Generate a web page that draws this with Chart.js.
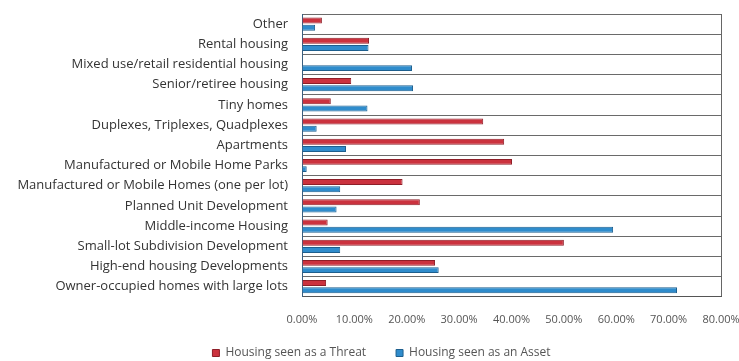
<!DOCTYPE html>
<html>
<head>
<meta charset="utf-8">
<script src="https://cdn.jsdelivr.net/npm/chart.js@4"></script>
<style>
  html, body { margin: 0; padding: 0; background: #ffffff; }
  #wrap { width: 739px; height: 361px; position: relative; }
</style>
</head>
<body>
<div id="wrap"><canvas id="c" width="739" height="361"></canvas></div>
<script>
const categories = [
  "Other",
  "Rental housing",
  "Mixed use/retail residential housing",
  "Senior/retiree housing",
  "Tiny homes",
  "Duplexes, Triplexes, Quadplexes",
  "Apartments",
  "Manufactured or Mobile Home Parks",
  "Manufactured or Mobile Homes (one per lot)",
  "Planned Unit Development",
  "Middle-income Housing",
  "Small-lot Subdivision Development",
  "High-end housing Developments",
  "Owner-occupied homes with large lots"
];
const threatValues = [3.8, 12.8, 0, 9.4, 5.5, 34.6, 38.6, 40.1, 19.2, 22.5, 4.9, 50.0, 25.4, 4.6];
const assetValues  = [2.5, 12.7, 21.0, 21.2, 12.5, 2.8, 8.4, 0.9, 7.3, 6.6, 59.4, 7.3, 26.1, 71.6];
const seriesNames = ["Housing seen as a Threat", "Housing seen as an Asset"];
const xTicks = [0, 10, 20, 30, 40, 50, 60, 70, 80];

const legendShift = {
  id: 'legendShift',
  afterLayout(chart) {
    if (chart.legend) { chart.legend.left += 12; chart.legend.right += 12; }
  }
};

const ctx = document.getElementById('c').getContext('2d');
new Chart(ctx, {
  type: 'bar',
  data: {
    labels: categories,
    datasets: [
      { label: seriesNames[0], data: threatValues, backgroundColor: '#cb323e', borderColor: '#8e1f28', borderWidth: 1, borderSkipped: 'start' },
      { label: seriesNames[1], data: assetValues, backgroundColor: '#2f8ccc', borderColor: '#1e5f8e', borderWidth: 1, borderSkipped: 'start' }
    ]
  },
  plugins: [legendShift],
  options: {
    indexAxis: 'y',
    responsive: false,
    animation: false,
    devicePixelRatio: 1,
    layout: { padding: { top: 14, right: 0, left: 0, bottom: -8 } },
    datasets: { bar: { categoryPercentage: 0.72, barPercentage: 0.82 } },
    plugins: {
      tooltip: { enabled: false },
      legend: {
        position: 'bottom',
        labels: {
          boxWidth: 7, boxHeight: 7, padding: 5,
          color: '#555555',
          font: { family: 'Open Sans', size: 12 },
          generateLabels: (chart) => {
            const items = Chart.defaults.plugins.legend.labels.generateLabels(chart);
            if (items.length) items[0].text = items[0].text + '\u00a0\u00a0\u00a0\u00a0\u00a0\u00a0\u00a0\u00a0';
            return items;
          }
        }
      }
    },
    scales: {
      x: {
        min: 0, max: 80,
        afterBuildTicks: (s) => { s.ticks = xTicks.map(v => ({ value: v })); },
        afterFit: (s) => { s.paddingRight = 18; s.paddingLeft = 0; },
        ticks: {
          color: '#555555', padding: 16,
          font: { family: 'Open Sans', size: 11 },
          maxRotation: 0,
          callback: (v) => Number(v).toFixed(2) + '%'
        },
        grid: {
          drawTicks: false,
          color: (c) => (c.tick && c.tick.value === 80) ? '#666666' : 'rgba(0,0,0,0)',
          lineWidth: 1
        },
        border: { display: true, color: '#555555', width: 1 }
      },
      y: {
        afterFit: (s) => { s.width = 302; s.paddingTop = 0; s.paddingBottom = 0; },
        ticks: {
          color: '#333333', padding: 14,
          font: { family: 'Open Sans', size: 13 },
          autoSkip: false
        },
        grid: { offset: true, drawTicks: false, color: '#6a6a6a', lineWidth: 1 },
        border: { display: true, color: '#3a5f80', width: 1 }
      }
    }
  }
});
</script>
</body>
</html>
